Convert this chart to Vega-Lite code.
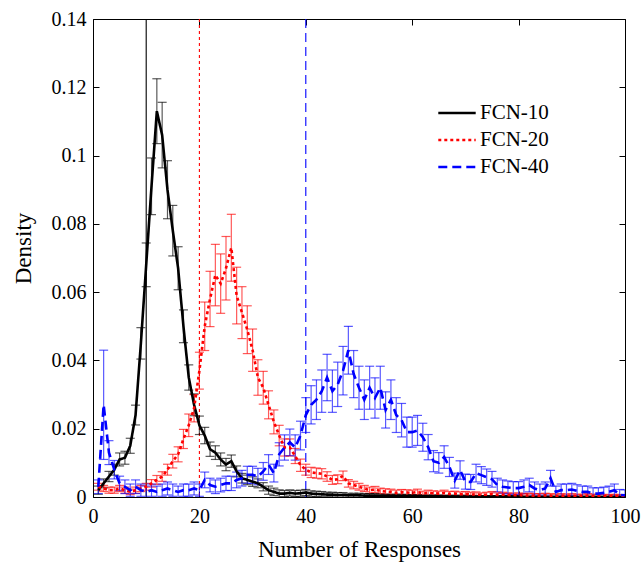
{
  "$schema": "https://vega.github.io/schema/vega-lite/v6.json",
  "width": 532,
  "height": 478,
  "autosize": {"type": "none"},
  "padding": {"left": 93, "top": 19, "right": 16, "bottom": 65},
  "background": "white",
  "config": {
    "view": {"stroke": "black", "strokeWidth": 1},
    "font": "Liberation Serif",
    "axis": {
      "domain": false,
      "grid": false,
      "labelFlush": false,
      "tickColor": "black",
      "tickSize": -6,
      "tickWidth": 1,
      "labelFont": "Liberation Serif",
      "labelFontSize": 20,
      "labelColor": "black",
      "titleFont": "Liberation Serif",
      "titleFontSize": 23,
      "titleFontWeight": "normal",
      "titleColor": "black"
    },
    "legend": {
      "labelFont": "Liberation Serif",
      "labelFontSize": 21,
      "labelColor": "black",
      "symbolType": "stroke",
      "symbolSize": 1400,
      "symbolStrokeWidth": 2.5,
      "symbolOpacity": 1,
      "clipHeight": 20,
      "rowPadding": 6,
      "labelOffset": 3,
      "padding": 0
    }
  },
  "datasets": {
    "ref": [{"s": "FCN-10", "x": 10}, {"s": "FCN-20", "x": 20}, {"s": "FCN-40", "x": 40}],
    "d": [
      {"s":"FCN-10","x":1,"y":0.002,"e":0.0012},{"s":"FCN-10","x":2,"y":0.004,"e":0.0013},{"s":"FCN-10","x":3,"y":0.006,"e":0.0015},{"s":"FCN-10","x":4,"y":0.008,"e":0.0016},{"s":"FCN-10","x":5,"y":0.011,"e":0.0019},
      {"s":"FCN-10","x":6,"y":0.0115,"e":0.0019},{"s":"FCN-10","x":7,"y":0.015,"e":0.0022},{"s":"FCN-10","x":8,"y":0.024,"e":0.0029},{"s":"FCN-10","x":9,"y":0.045,"e":0.0046},{"s":"FCN-10","x":10,"y":0.068,"e":0.0064},
      {"s":"FCN-10","x":11,"y":0.091,"e":0.0083},{"s":"FCN-10","x":12,"y":0.113,"e":0.0095},{"s":"FCN-10","x":13,"y":0.106,"e":0.0096},{"s":"FCN-10","x":14,"y":0.09,"e":0.0085},{"s":"FCN-10","x":15,"y":0.078,"e":0.0074},
      {"s":"FCN-10","x":16,"y":0.067,"e":0.0063},{"s":"FCN-10","x":17,"y":0.05,"e":0.0048},{"s":"FCN-10","x":18,"y":0.035,"e":0.0037},{"s":"FCN-10","x":19,"y":0.027,"e":0.0032},{"s":"FCN-10","x":20,"y":0.021,"e":0.0027},
      {"s":"FCN-10","x":21,"y":0.018,"e":0.0024},{"s":"FCN-10","x":22,"y":0.014,"e":0.0021},{"s":"FCN-10","x":23,"y":0.013,"e":0.002},{"s":"FCN-10","x":24,"y":0.011,"e":0.0019},{"s":"FCN-10","x":25,"y":0.0095,"e":0.0018},
      {"s":"FCN-10","x":26,"y":0.0105,"e":0.0018},{"s":"FCN-10","x":27,"y":0.0075,"e":0.0016},{"s":"FCN-10","x":28,"y":0.0055,"e":0.0014},{"s":"FCN-10","x":29,"y":0.005,"e":0.0014},{"s":"FCN-10","x":30,"y":0.0045,"e":0.0014},
      {"s":"FCN-10","x":31,"y":0.004,"e":0.0013},{"s":"FCN-10","x":32,"y":0.003,"e":0.0012},{"s":"FCN-10","x":33,"y":0.002,"e":0.0012},{"s":"FCN-10","x":34,"y":0.0015,"e":0.0011},{"s":"FCN-10","x":35,"y":0.001,"e":0.0011},
      {"s":"FCN-10","x":36,"y":0.001,"e":0.0009},{"s":"FCN-10","x":37,"y":0.0012,"e":0.0009},{"s":"FCN-10","x":38,"y":0.001,"e":0.0009},{"s":"FCN-10","x":39,"y":0.0011,"e":0.0009},{"s":"FCN-10","x":40,"y":0.0013,"e":0.0009},
      {"s":"FCN-10","x":41,"y":0.001,"e":0.0008},{"s":"FCN-10","x":42,"y":0.0009,"e":0.0008},{"s":"FCN-10","x":43,"y":0.0008,"e":0.0008},{"s":"FCN-10","x":44,"y":0.0007,"e":0.0007},{"s":"FCN-10","x":45,"y":0.0007,"e":0.0007},
      {"s":"FCN-10","x":46,"y":0.0006,"e":0.0007},{"s":"FCN-10","x":47,"y":0.0006,"e":0.0007},{"s":"FCN-10","x":48,"y":0.0005,"e":0.0006},{"s":"FCN-10","x":49,"y":0.0005,"e":0.0006},{"s":"FCN-10","x":50,"y":0.0005,"e":0.0006},
      {"s":"FCN-10","x":51,"y":0.0004,"e":0.0006},{"s":"FCN-10","x":52,"y":0.0004,"e":0.0006},{"s":"FCN-10","x":53,"y":0.0004,"e":0.0006},{"s":"FCN-10","x":54,"y":0.0003,"e":0.0005},{"s":"FCN-10","x":55,"y":0.0003,"e":0.0005},
      {"s":"FCN-10","x":56,"y":0.0003,"e":0.0005},{"s":"FCN-10","x":57,"y":0.0003,"e":0.0005},{"s":"FCN-10","x":58,"y":0.0003,"e":0.0005},{"s":"FCN-10","x":59,"y":0.0002,"e":0.0005},{"s":"FCN-10","x":60,"y":0.0002,"e":0.0005},
      {"s":"FCN-10","x":61,"y":0.0002,"e":0.0004},{"s":"FCN-10","x":62,"y":0.0002,"e":0.0004},{"s":"FCN-10","x":63,"y":0.0002,"e":0.0004},{"s":"FCN-10","x":64,"y":0.0002,"e":0.0004},{"s":"FCN-10","x":65,"y":0.0002,"e":0.0004},
      {"s":"FCN-10","x":66,"y":0.0001,"e":0.0004},{"s":"FCN-10","x":67,"y":0.0001,"e":0.0004},{"s":"FCN-10","x":68,"y":0.0001,"e":0.0004},{"s":"FCN-10","x":69,"y":0.0001,"e":0.0004},{"s":"FCN-10","x":70,"y":0.0001,"e":0.0004},
      {"s":"FCN-10","x":71,"y":0.0001,"e":0.0003},{"s":"FCN-10","x":72,"y":0.0001,"e":0.0003},{"s":"FCN-10","x":73,"y":0.0001,"e":0.0003},{"s":"FCN-10","x":74,"y":0.0001,"e":0.0003},{"s":"FCN-10","x":75,"y":0.0001,"e":0.0003},
      {"s":"FCN-10","x":76,"y":0.0001,"e":0.0003},{"s":"FCN-10","x":77,"y":0.0001,"e":0.0003},{"s":"FCN-10","x":78,"y":0.0001,"e":0.0003},{"s":"FCN-10","x":79,"y":0.0001,"e":0.0003},{"s":"FCN-10","x":80,"y":0.0001,"e":0.0003},
      {"s":"FCN-10","x":81,"y":0,"e":0.0002},{"s":"FCN-10","x":82,"y":0,"e":0.0002},{"s":"FCN-10","x":83,"y":0,"e":0.0002},{"s":"FCN-10","x":84,"y":0,"e":0.0002},{"s":"FCN-10","x":85,"y":0,"e":0.0002},
      {"s":"FCN-10","x":86,"y":0,"e":0.0002},{"s":"FCN-10","x":87,"y":0,"e":0.0002},{"s":"FCN-10","x":88,"y":0,"e":0.0002},{"s":"FCN-10","x":89,"y":0,"e":0.0002},{"s":"FCN-10","x":90,"y":0,"e":0.0002},
      {"s":"FCN-10","x":91,"y":0,"e":0.0002},{"s":"FCN-10","x":92,"y":0,"e":0.0002},{"s":"FCN-10","x":93,"y":0,"e":0.0002},{"s":"FCN-10","x":94,"y":0,"e":0.0002},{"s":"FCN-10","x":95,"y":0,"e":0.0002},
      {"s":"FCN-10","x":96,"y":0,"e":0.0002},{"s":"FCN-10","x":97,"y":0,"e":0.0002},{"s":"FCN-10","x":98,"y":0,"e":0.0002},{"s":"FCN-10","x":99,"y":0,"e":0.0002},{"s":"FCN-10","x":100,"y":0,"e":0.0002},

      {"s":"FCN-20","x":1,"y":0.003,"e":0.001},{"s":"FCN-20","x":2,"y":0.0025,"e":0.0009},{"s":"FCN-20","x":3,"y":0.002,"e":0.0009},{"s":"FCN-20","x":4,"y":0.002,"e":0.0009},{"s":"FCN-20","x":5,"y":0.0025,"e":0.0009},
      {"s":"FCN-20","x":6,"y":0.002,"e":0.0009},{"s":"FCN-20","x":7,"y":0.0015,"e":0.0008},{"s":"FCN-20","x":8,"y":0.002,"e":0.0009},{"s":"FCN-20","x":9,"y":0.0025,"e":0.0009},{"s":"FCN-20","x":10,"y":0.003,"e":0.001},
      {"s":"FCN-20","x":11,"y":0.004,"e":0.0011},{"s":"FCN-20","x":12,"y":0.005,"e":0.0013},{"s":"FCN-20","x":13,"y":0.006,"e":0.0014},{"s":"FCN-20","x":14,"y":0.008,"e":0.0016},{"s":"FCN-20","x":15,"y":0.0105,"e":0.002},
      {"s":"FCN-20","x":16,"y":0.0125,"e":0.0022},{"s":"FCN-20","x":17,"y":0.017,"e":0.0028},{"s":"FCN-20","x":18,"y":0.021,"e":0.0033},{"s":"FCN-20","x":19,"y":0.026,"e":0.004},{"s":"FCN-20","x":20,"y":0.037,"e":0.0054},
      {"s":"FCN-20","x":21,"y":0.05,"e":0.0071},{"s":"FCN-20","x":22,"y":0.058,"e":0.0081},{"s":"FCN-20","x":23,"y":0.065,"e":0.009},{"s":"FCN-20","x":24,"y":0.0625,"e":0.0087},{"s":"FCN-20","x":25,"y":0.067,"e":0.0093},
      {"s":"FCN-20","x":26,"y":0.073,"e":0.0098},{"s":"FCN-20","x":27,"y":0.059,"e":0.0083},{"s":"FCN-20","x":28,"y":0.054,"e":0.0076},{"s":"FCN-20","x":29,"y":0.049,"e":0.007},{"s":"FCN-20","x":30,"y":0.043,"e":0.0062},
      {"s":"FCN-20","x":31,"y":0.035,"e":0.0052},{"s":"FCN-20","x":32,"y":0.032,"e":0.0048},{"s":"FCN-20","x":33,"y":0.027,"e":0.0041},{"s":"FCN-20","x":34,"y":0.022,"e":0.0035},{"s":"FCN-20","x":35,"y":0.018,"e":0.003},
      {"s":"FCN-20","x":36,"y":0.0145,"e":0.0025},{"s":"FCN-20","x":37,"y":0.0145,"e":0.0025},{"s":"FCN-20","x":38,"y":0.012,"e":0.0022},{"s":"FCN-20","x":39,"y":0.0093,"e":0.0018},{"s":"FCN-20","x":40,"y":0.008,"e":0.0016},
      {"s":"FCN-20","x":41,"y":0.0072,"e":0.0015},{"s":"FCN-20","x":42,"y":0.007,"e":0.0015},{"s":"FCN-20","x":43,"y":0.0068,"e":0.0015},{"s":"FCN-20","x":44,"y":0.006,"e":0.0014},{"s":"FCN-20","x":45,"y":0.005,"e":0.0013},
      {"s":"FCN-20","x":46,"y":0.0052,"e":0.0013},{"s":"FCN-20","x":47,"y":0.0062,"e":0.0014},{"s":"FCN-20","x":48,"y":0.004,"e":0.0011},{"s":"FCN-20","x":49,"y":0.0035,"e":0.0011},{"s":"FCN-20","x":50,"y":0.003,"e":0.001},
      {"s":"FCN-20","x":51,"y":0.0025,"e":0.0009},{"s":"FCN-20","x":52,"y":0.002,"e":0.0009},{"s":"FCN-20","x":53,"y":0.0022,"e":0.0009},{"s":"FCN-20","x":54,"y":0.0018,"e":0.0008},{"s":"FCN-20","x":55,"y":0.0016,"e":0.0008},
      {"s":"FCN-20","x":56,"y":0.0015,"e":0.0008},{"s":"FCN-20","x":57,"y":0.0012,"e":0.0008},{"s":"FCN-20","x":58,"y":0.0014,"e":0.0008},{"s":"FCN-20","x":59,"y":0.0013,"e":0.0008},{"s":"FCN-20","x":60,"y":0.0012,"e":0.0008},
      {"s":"FCN-20","x":61,"y":0.0015,"e":0.0008},{"s":"FCN-20","x":62,"y":0.001,"e":0.0007},{"s":"FCN-20","x":63,"y":0.0012,"e":0.0008},{"s":"FCN-20","x":64,"y":0.0011,"e":0.0007},{"s":"FCN-20","x":65,"y":0.001,"e":0.0007},
      {"s":"FCN-20","x":66,"y":0.0012,"e":0.0008},{"s":"FCN-20","x":67,"y":0.0009,"e":0.0007},{"s":"FCN-20","x":68,"y":0.001,"e":0.0007},{"s":"FCN-20","x":69,"y":0.0008,"e":0.0007},{"s":"FCN-20","x":70,"y":0.0009,"e":0.0007},
      {"s":"FCN-20","x":71,"y":0.0007,"e":0.0007},{"s":"FCN-20","x":72,"y":0.0008,"e":0.0007},{"s":"FCN-20","x":73,"y":0.0006,"e":0.0006},{"s":"FCN-20","x":74,"y":0.0007,"e":0.0007},{"s":"FCN-20","x":75,"y":0.0009,"e":0.0007},
      {"s":"FCN-20","x":76,"y":0.0006,"e":0.0006},{"s":"FCN-20","x":77,"y":0.0007,"e":0.0007},{"s":"FCN-20","x":78,"y":0.0006,"e":0.0006},{"s":"FCN-20","x":79,"y":0.0005,"e":0.0006},{"s":"FCN-20","x":80,"y":0.0006,"e":0.0006},
      {"s":"FCN-20","x":81,"y":0.0004,"e":0.0006},{"s":"FCN-20","x":82,"y":0.0005,"e":0.0006},{"s":"FCN-20","x":83,"y":0.0004,"e":0.0006},{"s":"FCN-20","x":84,"y":0.0004,"e":0.0006},{"s":"FCN-20","x":85,"y":0.0005,"e":0.0006},
      {"s":"FCN-20","x":86,"y":0.0004,"e":0.0006},{"s":"FCN-20","x":87,"y":0.0003,"e":0.0005},{"s":"FCN-20","x":88,"y":0.0004,"e":0.0006},{"s":"FCN-20","x":89,"y":0.0003,"e":0.0005},{"s":"FCN-20","x":90,"y":0.0004,"e":0.0006},
      {"s":"FCN-20","x":91,"y":0.0003,"e":0.0005},{"s":"FCN-20","x":92,"y":0.0003,"e":0.0005},{"s":"FCN-20","x":93,"y":0.0004,"e":0.0006},{"s":"FCN-20","x":94,"y":0.0003,"e":0.0005},{"s":"FCN-20","x":95,"y":0.0003,"e":0.0005},
      {"s":"FCN-20","x":96,"y":0.0003,"e":0.0005},{"s":"FCN-20","x":97,"y":0.0002,"e":0.0005},{"s":"FCN-20","x":98,"y":0.0003,"e":0.0005},{"s":"FCN-20","x":99,"y":0.0002,"e":0.0005},{"s":"FCN-20","x":100,"y":0.0002,"e":0.0005},

      {"s":"FCN-40","x":1,"y":0.003,"e":0.002},{"s":"FCN-40","x":2,"y":0.027,"e":0.016},{"s":"FCN-40","x":3,"y":0.013,"e":0.0035},{"s":"FCN-40","x":4,"y":0.008,"e":0.0027},{"s":"FCN-40","x":5,"y":0.004,"e":0.0021},
      {"s":"FCN-40","x":6,"y":0.003,"e":0.002},{"s":"FCN-40","x":7,"y":0.002,"e":0.0018},{"s":"FCN-40","x":8,"y":0.003,"e":0.002},{"s":"FCN-40","x":9,"y":0.002,"e":0.0018},{"s":"FCN-40","x":10,"y":0.0015,"e":0.0017},
      {"s":"FCN-40","x":11,"y":0.002,"e":0.0018},{"s":"FCN-40","x":12,"y":0.0015,"e":0.0017},{"s":"FCN-40","x":13,"y":0.002,"e":0.0018},{"s":"FCN-40","x":14,"y":0.0025,"e":0.0019},{"s":"FCN-40","x":15,"y":0.002,"e":0.0018},
      {"s":"FCN-40","x":16,"y":0.0015,"e":0.0017},{"s":"FCN-40","x":17,"y":0.002,"e":0.0018},{"s":"FCN-40","x":18,"y":0.002,"e":0.0018},{"s":"FCN-40","x":19,"y":0.0025,"e":0.0019},{"s":"FCN-40","x":20,"y":0.002,"e":0.0018},
      {"s":"FCN-40","x":21,"y":0.005,"e":0.0023},{"s":"FCN-40","x":22,"y":0.0035,"e":0.002},{"s":"FCN-40","x":23,"y":0.003,"e":0.002},{"s":"FCN-40","x":24,"y":0.0035,"e":0.002},{"s":"FCN-40","x":25,"y":0.004,"e":0.0021},
      {"s":"FCN-40","x":26,"y":0.004,"e":0.0021},{"s":"FCN-40","x":27,"y":0.005,"e":0.0023},{"s":"FCN-40","x":28,"y":0.0055,"e":0.0023},{"s":"FCN-40","x":29,"y":0.0065,"e":0.0025},{"s":"FCN-40","x":30,"y":0.0065,"e":0.0025},
      {"s":"FCN-40","x":31,"y":0.006,"e":0.0024},{"s":"FCN-40","x":32,"y":0.0075,"e":0.0026},{"s":"FCN-40","x":33,"y":0.0095,"e":0.0029},{"s":"FCN-40","x":34,"y":0.007,"e":0.0026},{"s":"FCN-40","x":35,"y":0.0125,"e":0.0034},
      {"s":"FCN-40","x":36,"y":0.0145,"e":0.0037},{"s":"FCN-40","x":37,"y":0.016,"e":0.0039},{"s":"FCN-40","x":38,"y":0.0145,"e":0.0037},{"s":"FCN-40","x":39,"y":0.018,"e":0.0042},{"s":"FCN-40","x":40,"y":0.024,"e":0.0051},
      {"s":"FCN-40","x":41,"y":0.027,"e":0.0056},{"s":"FCN-40","x":42,"y":0.0285,"e":0.0058},{"s":"FCN-40","x":43,"y":0.031,"e":0.0062},{"s":"FCN-40","x":44,"y":0.035,"e":0.0068},{"s":"FCN-40","x":45,"y":0.031,"e":0.0062},
      {"s":"FCN-40","x":46,"y":0.033,"e":0.0065},{"s":"FCN-40","x":47,"y":0.037,"e":0.0071},{"s":"FCN-40","x":48,"y":0.043,"e":0.007},{"s":"FCN-40","x":49,"y":0.036,"e":0.0069},{"s":"FCN-40","x":50,"y":0.032,"e":0.0063},
      {"s":"FCN-40","x":51,"y":0.0285,"e":0.0058},{"s":"FCN-40","x":52,"y":0.032,"e":0.0063},{"s":"FCN-40","x":53,"y":0.029,"e":0.0059},{"s":"FCN-40","x":54,"y":0.032,"e":0.0063},{"s":"FCN-40","x":55,"y":0.0255,"e":0.0053},
      {"s":"FCN-40","x":56,"y":0.0285,"e":0.0058},{"s":"FCN-40","x":57,"y":0.024,"e":0.0051},{"s":"FCN-40","x":58,"y":0.0225,"e":0.0049},{"s":"FCN-40","x":59,"y":0.019,"e":0.0044},{"s":"FCN-40","x":60,"y":0.019,"e":0.0044},
      {"s":"FCN-40","x":61,"y":0.0195,"e":0.0044},{"s":"FCN-40","x":62,"y":0.0175,"e":0.0041},{"s":"FCN-40","x":63,"y":0.0146,"e":0.0037},{"s":"FCN-40","x":64,"y":0.0105,"e":0.0031},{"s":"FCN-40","x":65,"y":0.01,"e":0.003},
      {"s":"FCN-40","x":66,"y":0.0117,"e":0.0033},{"s":"FCN-40","x":67,"y":0.0088,"e":0.0028},{"s":"FCN-40","x":68,"y":0.0048,"e":0.0022},{"s":"FCN-40","x":69,"y":0.0079,"e":0.0027},{"s":"FCN-40","x":70,"y":0.0045,"e":0.0022},
      {"s":"FCN-40","x":71,"y":0.0044,"e":0.0022},{"s":"FCN-40","x":72,"y":0.007,"e":0.0026},{"s":"FCN-40","x":73,"y":0.0064,"e":0.0025},{"s":"FCN-40","x":74,"y":0.0058,"e":0.0024},{"s":"FCN-40","x":75,"y":0.0052,"e":0.0023},
      {"s":"FCN-40","x":76,"y":0.0035,"e":0.002},{"s":"FCN-40","x":77,"y":0.003,"e":0.002},{"s":"FCN-40","x":78,"y":0.0028,"e":0.0019},{"s":"FCN-40","x":79,"y":0.0026,"e":0.0019},{"s":"FCN-40","x":80,"y":0.0026,"e":0.0019},
      {"s":"FCN-40","x":81,"y":0.003,"e":0.002},{"s":"FCN-40","x":82,"y":0.0035,"e":0.002},{"s":"FCN-40","x":83,"y":0.0025,"e":0.0019},{"s":"FCN-40","x":84,"y":0.002,"e":0.0018},{"s":"FCN-40","x":85,"y":0.0025,"e":0.0019},
      {"s":"FCN-40","x":86,"y":0.0055,"e":0.0023},{"s":"FCN-40","x":87,"y":0.0015,"e":0.0017},{"s":"FCN-40","x":88,"y":0.002,"e":0.0018},{"s":"FCN-40","x":89,"y":0.002,"e":0.0018},{"s":"FCN-40","x":90,"y":0.0022,"e":0.0018},
      {"s":"FCN-40","x":91,"y":0.0018,"e":0.0018},{"s":"FCN-40","x":92,"y":0.0015,"e":0.0017},{"s":"FCN-40","x":93,"y":0.0015,"e":0.0017},{"s":"FCN-40","x":94,"y":0.001,"e":0.0017},{"s":"FCN-40","x":95,"y":0.001,"e":0.0017},
      {"s":"FCN-40","x":96,"y":0.0012,"e":0.0017},{"s":"FCN-40","x":97,"y":0.0015,"e":0.0017},{"s":"FCN-40","x":98,"y":0.002,"e":0.0018},{"s":"FCN-40","x":99,"y":0.0006,"e":0.0016},{"s":"FCN-40","x":100,"y":0.0005,"e":0.0016}
    ]
  },
  "layer": [
    {
      "data": {"name": "ref"},
      "mark": {"type": "rule", "strokeWidth": 1.1},
      "encoding": {
        "x": {"field": "x", "type": "quantitative", "scale": {"domain": [0, 100]}, "axis": null},
        "color": {"field": "s", "type": "nominal", "scale": {"domain": ["FCN-10", "FCN-20", "FCN-40"], "range": ["#000000", "#ff0000", "#0000ff"]}, "legend": {"title": null, "orient": "none", "legendX": 344, "legendY": 84}},
        "strokeDash": {"field": "s", "type": "nominal", "scale": {"domain": ["FCN-10", "FCN-20", "FCN-40"], "range": [[1, 0], [3, 3], [9, 5]]}, "legend": {"title": null, "orient": "none", "legendX": 344, "legendY": 84}}
      }
    },
    {
      "data": {"name": "d"},
      "mark": {"type": "errorbar", "ticks": {"opacity": 0.65}, "rule": {"opacity": 0.65}, "size": 9, "thickness": 1.2, "clip": true},
      "encoding": {
        "x": {"field": "x", "type": "quantitative", "scale": {"domain": [0, 100]}, "axis": {"orient": "top", "labels": false, "title": null, "values": [0, 20, 40, 60, 80, 100]}},
        "y": {"field": "y", "type": "quantitative", "scale": {"domain": [0, 0.14]}, "axis": {"orient": "right", "labels": false, "title": null, "values": [0, 0.02, 0.04, 0.06, 0.08, 0.1, 0.12, 0.14]}},
        "yError": {"field": "e"},
        "color": {"field": "s", "type": "nominal", "legend": {"title": null, "orient": "none", "legendX": 344, "legendY": 84}}
      }
    },
    {
      "data": {"name": "d"},
      "mark": {"type": "line", "strokeWidth": 2.6, "clip": true},
      "encoding": {
        "x": {"field": "x", "type": "quantitative", "scale": {"domain": [0, 100]}, "axis": {"orient": "bottom", "title": "Number of Responses", "values": [0, 20, 40, 60, 80, 100], "labelPadding": 15, "titlePadding": 12}},
        "y": {"field": "y", "type": "quantitative", "scale": {"domain": [0, 0.14]}, "axis": {"orient": "left", "title": "Density", "format": "~g", "values": [0, 0.02, 0.04, 0.06, 0.08, 0.1, 0.12, 0.14], "labelPadding": 13, "titlePadding": 16, "titleY": 229}},
        "color": {"field": "s", "type": "nominal", "legend": {"title": null, "orient": "none", "legendX": 344, "legendY": 84}},
        "strokeDash": {"field": "s", "type": "nominal", "legend": {"title": null, "orient": "none", "legendX": 344, "legendY": 84}}
      }
    }
  ],
  "resolve": {"axis": {"x": "independent", "y": "independent"}}
}
